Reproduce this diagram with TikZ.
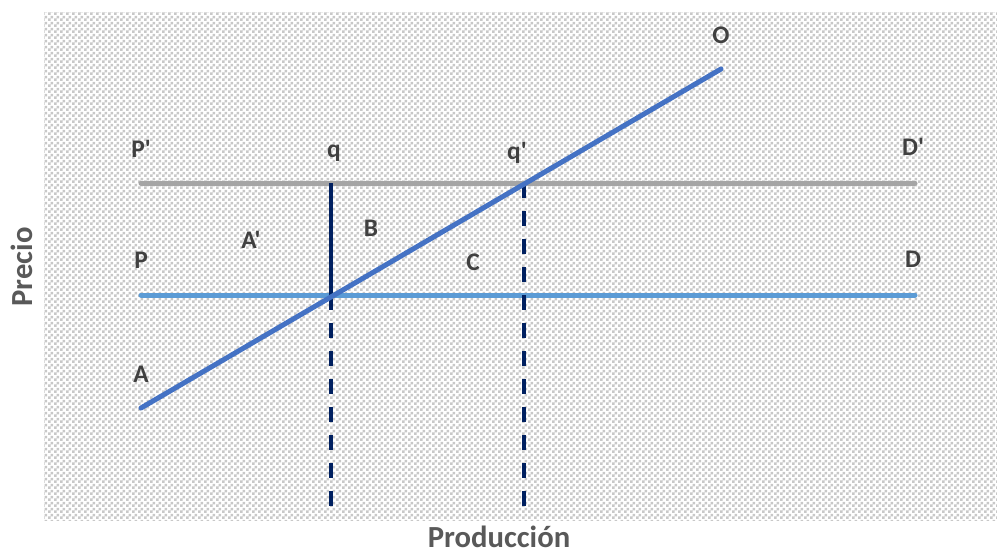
\documentclass[tikz,border=0pt]{standalone}
\usepackage{fontspec}
\setmainfont{Carlito}[Ligatures=TeXOff]
\usetikzlibrary{patterns}
\definecolor{lblc}{HTML}{404040}
\definecolor{axc}{HTML}{595959}
\definecolor{grayl}{HTML}{A5A5A5}
\definecolor{bluel}{HTML}{5B9BD5}
\definecolor{supl}{HTML}{4472C4}
\definecolor{navy}{HTML}{002060}
\definecolor{chk}{HTML}{C8C8C8}
\pgfdeclarepatternformonly{checker}{\pgfpointorigin}{\pgfpoint{4.5pt}{4.5pt}}{\pgfpoint{4.5pt}{4.5pt}}{%
  \pgfpathrectangle{\pgfpointorigin}{\pgfpoint{2.25pt}{2.25pt}}%
  \pgfpathrectangle{\pgfpoint{2.25pt}{2.25pt}}{\pgfpoint{2.25pt}{2.25pt}}%
  \pgfusepath{fill}}
\tikzset{
  lbl/.style={text=lblc, font=\fontsize{19}{21}\selectfont\bfseries, inner sep=0pt, anchor=center},
  axlbl/.style={text=axc, font=\fontsize{23}{25}\selectfont\bfseries, inner sep=0pt, anchor=center},
  hline/.style={line width=3.75pt, line cap=round},
  dashv/.style={navy, line width=3pt, dash pattern=on 11.25pt off 9.75pt},
}
\begin{document}
\begin{tikzpicture}[x=0.75pt,y=-0.75pt]
\useasboundingbox (0,0) rectangle (997,554);
\fill[white] (0,0) rectangle (997,554);
\fill[white] (44,12) rectangle (997,520);
\fill[pattern=checker, pattern color=chk] (44,12) rectangle (997,520);

% coordinates
\coordinate (p1) at (141,183);
\coordinate (d1) at (915,183);
\coordinate (p0) at (141,295);
\coordinate (d0) at (915,295);
\coordinate (a0) at (141,408);
\coordinate (o0) at (721,69);
\coordinate (qt) at (331,183);
\coordinate (qm) at (331,295);
\coordinate (qb) at (331,513);
\coordinate (q2t) at (524,183);
\coordinate (q2b) at (524,517);

\draw[hline, grayl] (p1) -- (d1);
\draw[hline, bluel] (p0) -- (d0);
\draw[dashv] (qm) -- (qb);
\draw[dashv] (q2t) -- (q2b);
\draw[navy, line width=3pt] (qt) -- (qm);
\draw[hline, supl] (a0) -- (o0);

% labels
\node[lbl] (lO) at (721,35) {O};
\node[lbl] (lP1) at (141,149) {P'};
\node[lbl] (lq) at (334,153) {q};
\node[lbl] (lq1) at (517,153) {q'};
\node[lbl] (lD1) at (913,147) {D'};
\node[lbl] (lA1) at (251,240) {A'};
\node[lbl] (lB) at (371,228) {B};
\node[lbl] (lP) at (141,260) {P};
\node[lbl] (lC) at (473,262) {C};
\node[lbl] (lD) at (913,259) {D};
\node[lbl] (lA) at (141,374) {A};
\node[axlbl, rotate=90] (yl) at (22,267) {Precio};
\node[axlbl] (xl) at (499,537) {Producción};
\end{tikzpicture}
\end{document}
